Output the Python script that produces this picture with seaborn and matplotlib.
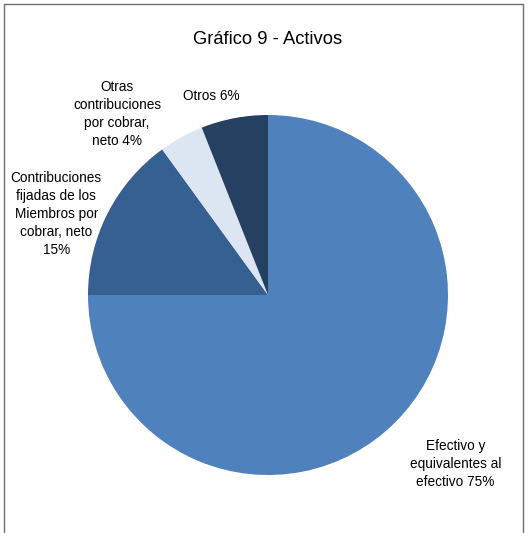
import numpy as np
import matplotlib
matplotlib.use("Agg")
import matplotlib.pyplot as plt
import seaborn as sns
from matplotlib.patches import Rectangle

sns.set_theme(style="white")
plt.rcParams['font.family'] = ['Liberation Sans', 'DejaVu Sans']

# ------------------------------- Data ------------------------------- #
labels = ["Efectivo y\nequivalentes al\nefectivo 75%",
          "Contribuciones\nfijadas de los\nMiembros por\ncobrar, neto\n15%",
          "Otras\ncontribuciones\npor cobrar,\nneto 4%",
          "Otros 6%"]
shares = [75, 15, 4, 6]
colors = sns.color_palette(["#4F81BD", "#376092", "#DCE6F2", "#254061"])

# label offset (distance from centre, angle shift in degrees) per wedge
label_dist = [1.40, 1.26, 1.31, 1.15]
label_shift = [3, 6, 11, 5]

# ------------------------------- Plot ------------------------------- #
W, H = 528, 533
fig = plt.figure(figsize=(W / 100, H / 100), dpi=100)
fig.patch.set_facecolor("white")

# outer frame
fig.patches.append(Rectangle((4 / W, -0.05), 519 / W, 1.05 - 4 / H,
                             transform=fig.transFigure, fill=False,
                             edgecolor="#6f6f6f", linewidth=1.0))

ax = fig.add_axes([88 / W, 58 / H, 360 / W, 360 / H])
wedges, _ = ax.pie(shares, colors=colors, startangle=90, counterclock=False,
                   wedgeprops=dict(linewidth=0))
ax.set_xlim(-1, 1)
ax.set_ylim(-1, 1)
ax.set_aspect("equal")
ax.axis("off")

for w, lab, d, s in zip(wedges, labels, label_dist, label_shift):
    ang = np.deg2rad((w.theta1 + w.theta2) / 2 + s)
    ax.text(d * np.cos(ang), d * np.sin(ang), lab, ha="center", va="center",
            fontsize=9.8, linespacing=1.36, color="black", clip_on=False)

fig.text(268 / W, 1 - 40 / H, "Gráfico 9 - Activos", ha="center",
         va="center", fontsize=13.2, color="black")

fig.savefig("out.png", dpi=100)
